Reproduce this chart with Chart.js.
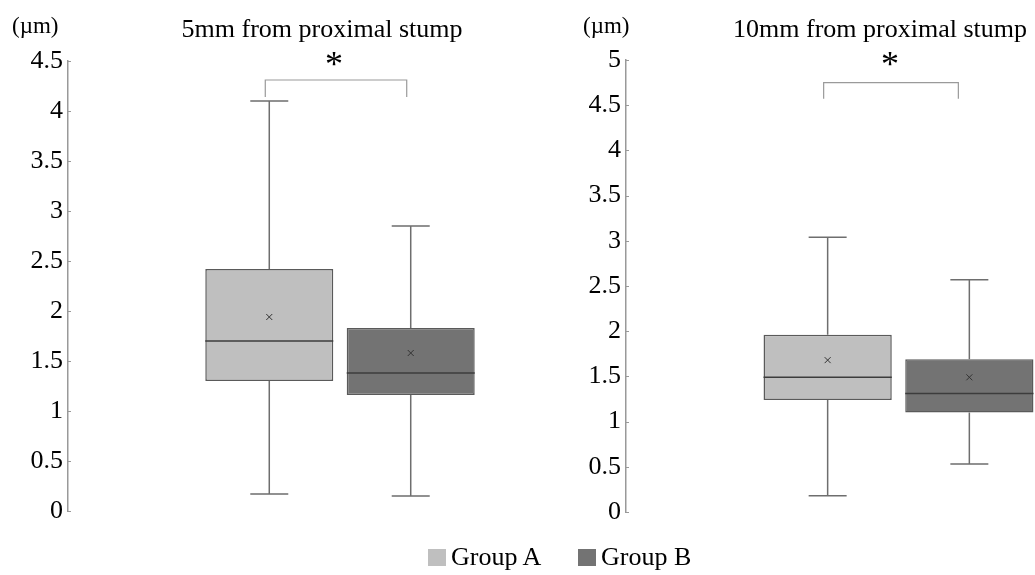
<!DOCTYPE html>
<html>
<head>
<meta charset="utf-8">
<title>Box plots - distance from proximal stump</title>
<script src="https://cdn.jsdelivr.net/npm/chart.js@4/dist/chart.umd.min.js"></script>
<style>
  html, body { margin: 0; padding: 0; background: #fff; overflow: hidden; }
  body { width: 1035px; height: 575px; position: relative; font-family: 'Liberation Serif', 'Times New Roman', serif; }
  canvas { position: absolute; top: 0; }
  #chart5 { left: 0; }
  #chart10 { left: 570px; }
  .item { position: absolute; top: 543px; display: flex; align-items: center; font-size: 26px; color: #000; height: 28px; }
  .swatch { width: 18px; height: 17px; margin-right: 5px; }
</style>
</head>
<body>

<canvas id="chart5" width="615" height="575"></canvas>
<canvas id="chart10" width="620" height="575"></canvas>

<div class="item" style="left:428px"><span class="swatch" style="background:#bfbfbf"></span>Group A</div>
<div class="item" style="left:578px"><span class="swatch" style="background:#737373"></span>Group B</div>

<script>
'use strict';

// ******************** DATA ********************

const groups = ['Group A', 'Group B'];
const groupColors = ['#bfbfbf', '#737373'];

// 5mm from proximal stump
const min5 = [0.17, 0.15];
const q1of5 = [1.30, 1.16];
const median5 = [1.70, 1.38];
const q3of5 = [2.42, 1.83];
const max5 = [4.10, 2.85];
const mean5 = [1.94, 1.58];

// 10mm from proximal stump
const min10 = [0.18, 0.53];
const q1of10 = [1.24, 1.10];
const median10 = [1.49, 1.31];
const q3of10 = [1.96, 1.69];
const max10 = [3.04, 2.57];
const mean10 = [1.68, 1.49];

// y axis ranges
const yMax5 = 4.5;
const yMax10 = 5;
const yStep = 0.5;

// significance bracket (top of bracket, bottom of its legs)
const bracket5 = [4.31, 4.14];
const bracket10 = [4.75, 4.57];

const fontFamily = "'Liberation Serif', 'Times New Roman', serif";

// ******************** PLUGINS ********************

// whiskers, caps, median line and mean marker drawn on top of the floating bars
function makeBoxPlugin(mins, medians, maxs, means) {
  return {
    id: 'boxWhisker',
    afterDatasetsDraw(chart) {
      let ctx = chart.ctx;
      let y = chart.scales.y;
      ctx.save();
      chart.data.datasets.forEach((ds, i) => {
        let bar = chart.getDatasetMeta(i).data[0];
        let x = bar.x;
        let half = bar.width / 2;
        let top = y.getPixelForValue(ds.data[0][1]);
        let bottom = y.getPixelForValue(ds.data[0][0]);
        let yMax = y.getPixelForValue(maxs[i]);
        let yMin = y.getPixelForValue(mins[i]);
        let capHalf = 19;

        // whiskers
        ctx.strokeStyle = '#6e6e6e';
        ctx.lineWidth = 1.5;
        ctx.beginPath();
        ctx.moveTo(x, top); ctx.lineTo(x, yMax);
        ctx.moveTo(x, bottom); ctx.lineTo(x, yMin);
        ctx.moveTo(x - capHalf, yMax); ctx.lineTo(x + capHalf, yMax);
        ctx.moveTo(x - capHalf, yMin); ctx.lineTo(x + capHalf, yMin);
        ctx.stroke();

        // median
        let yMed = y.getPixelForValue(medians[i]);
        ctx.strokeStyle = '#3c3c3c';
        ctx.beginPath();
        ctx.moveTo(x - half, yMed); ctx.lineTo(x + half, yMed);
        ctx.stroke();

        // mean (small x)
        let yMean = y.getPixelForValue(means[i]);
        let m = 3;
        ctx.strokeStyle = '#333';
        ctx.lineWidth = 1;
        ctx.beginPath();
        ctx.moveTo(x - m, yMean - m); ctx.lineTo(x + m, yMean + m);
        ctx.moveTo(x - m, yMean + m); ctx.lineTo(x + m, yMean - m);
        ctx.stroke();
      });
      ctx.restore();
    }
  };
}

// title, unit label, small inner tick marks and significance bracket
function makeNotesPlugin(title, titleX, unitX, bracket, legOffsets, starX) {
  return {
    id: 'notes',
    afterDraw(chart) {
      let ctx = chart.ctx;
      let y = chart.scales.y;
      let area = chart.chartArea;
      ctx.save();

      ctx.fillStyle = '#000';
      ctx.textBaseline = 'alphabetic';
      ctx.font = '26px ' + fontFamily;
      ctx.textAlign = 'center';
      ctx.fillText(title, titleX, 37);

      ctx.font = '23px ' + fontFamily;
      ctx.textAlign = 'left';
      ctx.fillText('(\u00b5m)', unitX, 33);

      // tick marks on the inside of the axis
      ctx.strokeStyle = '#999';
      ctx.lineWidth = 1;
      ctx.beginPath();
      y.ticks.forEach((t, i) => {
        let py = Math.round(y.getPixelForTick(i)) + 0.5;
        ctx.moveTo(area.left, py);
        ctx.lineTo(area.left + 3, py);
      });
      ctx.stroke();

      // bracket
      let xa = chart.getDatasetMeta(0).data[0].x + legOffsets[0];
      let xb = chart.getDatasetMeta(1).data[0].x + legOffsets[1];
      let yTop = y.getPixelForValue(bracket[0]);
      let yLeg = y.getPixelForValue(bracket[1]);
      ctx.strokeStyle = '#9a9a9a';
      ctx.lineWidth = 1.2;
      ctx.beginPath();
      ctx.moveTo(xa, yLeg); ctx.lineTo(xa, yTop);
      ctx.lineTo(xb, yTop); ctx.lineTo(xb, yLeg);
      ctx.stroke();

      ctx.font = '36px ' + fontFamily;
      ctx.textAlign = 'center';
      ctx.fillText('*', starX, 76);

      ctx.restore();
    }
  };
}

// ******************** CHART BUILDER ********************

function buildChart(canvasId, q1s, q3s, yMax, axisWidth, padding, plugins) {
  let datasets = groups.map((g, i) => ({
    label: g,
    data: [[q1s[i], q3s[i]]],
    backgroundColor: groupColors[i],
    borderColor: '#5a5a5a',
    borderWidth: 1.5,
    borderSkipped: false,
    categoryPercentage: 0.52,
    barPercentage: 0.905
  }));

  return new Chart(document.getElementById(canvasId), {
    type: 'bar',
    data: { labels: [''], datasets: datasets },
    options: {
      responsive: false,
      animation: false,
      events: [],
      layout: { padding: padding },
      plugins: {
        legend: { display: false },
        tooltip: { enabled: false },
        title: { display: false }
      },
      scales: {
        x: { display: false },
        y: {
          min: 0,
          max: yMax,
          ticks: {
            stepSize: yStep,
            color: '#000',
            padding: 5,
            font: { family: fontFamily, size: 26 },
            callback: (value) => String(value)
          },
          grid: { display: false, drawTicks: false },
          border: { display: true, color: '#999', width: 1.5 },
          afterFit(scale) { scale.width = axisWidth; }
        }
      }
    },
    plugins: plugins
  });
}

buildChart('chart5', q1of5, q3of5, yMax5, 68,
  { left: 0, right: 3, top: 61, bottom: 64 },
  [makeBoxPlugin(min5, median5, max5, mean5),
   makeNotesPlugin('5mm from proximal stump', 322, 12, bracket5, [-4, -4], 334)]);

buildChart('chart10', q1of10, q3of10, yMax10, 56,
  { left: 0, right: 19, top: 60, bottom: 63 },
  [makeBoxPlugin(min10, median10, max10, mean10),
   makeNotesPlugin('10mm from proximal stump', 310, 13, bracket10, [-4, -11], 320)]);
</script>
</body>
</html>
